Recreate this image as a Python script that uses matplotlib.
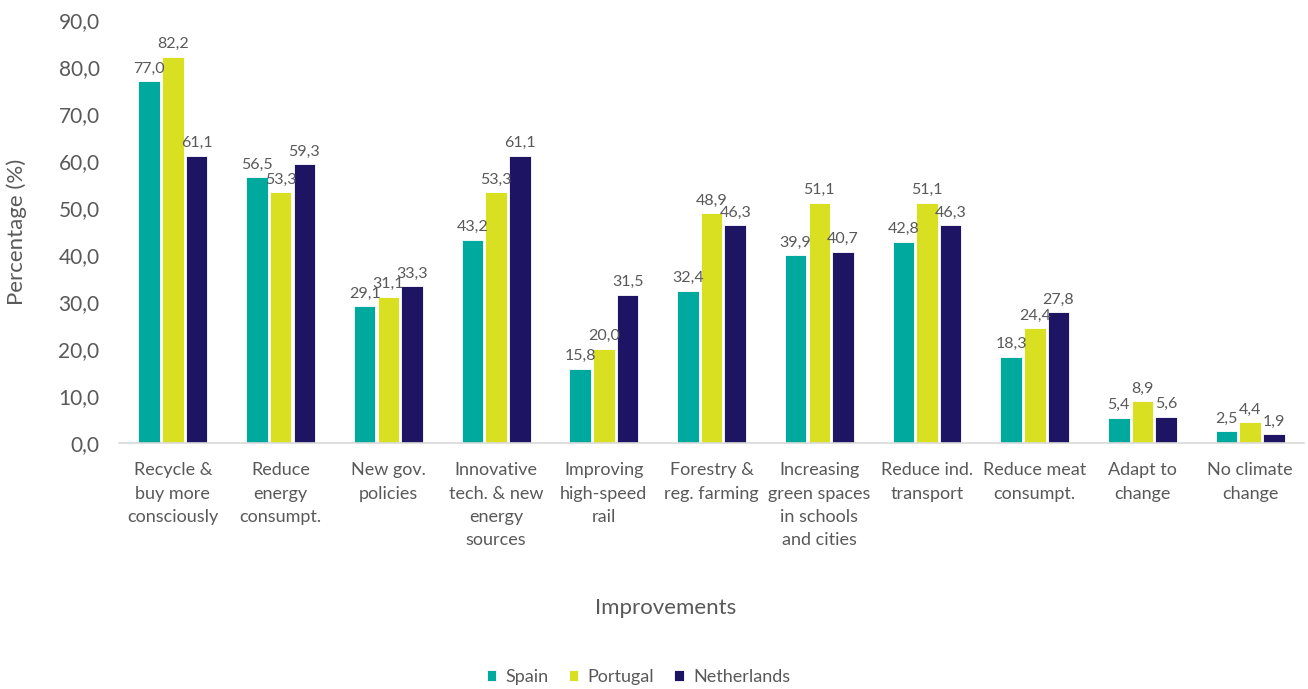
import numpy as np
import matplotlib
matplotlib.use("Agg")
import matplotlib.pyplot as plt
from matplotlib.ticker import FuncFormatter

categories = [
    "Recycle &\nbuy more\nconsciously",
    "Reduce\nenergy\nconsumpt.",
    "New gov.\npolicies",
    "Innovative\ntech. & new\nenergy\nsources",
    "Improving\nhigh-speed\nrail",
    "Forestry &\nreg. farming",
    "Increasing\ngreen spaces\nin schools\nand cities",
    "Reduce ind.\ntransport",
    "Reduce meat\nconsumpt.",
    "Adapt to\nchange",
    "No climate\nchange",
]
spain = [77.0, 56.5, 29.1, 43.2, 15.8, 32.4, 39.9, 42.8, 18.3, 5.4, 2.5]
portugal = [82.2, 53.3, 31.1, 53.3, 20.0, 48.9, 51.1, 51.1, 24.4, 8.9, 4.4]
netherlands = [61.1, 59.3, 33.3, 61.1, 31.5, 46.3, 40.7, 46.3, 27.8, 5.6, 1.9]
series_names = ["Spain", "Portugal", "Netherlands"]
colors = ["#00A99D", "#D9E021", "#1E1464"]

plt.rcParams["font.family"] = ["Lato", "DejaVu Sans"]
text_color = "#595959"

fig = plt.figure(figsize=(13.08, 6.89), dpi=100)
ax = fig.add_axes([0.091, 0.357, 0.906, 0.614])

x = np.arange(len(categories))
width = 0.2
step = 0.22
for i, (vals, name, col) in enumerate(zip([spain, portugal, netherlands], series_names, colors)):
    pos = x + (i - 1) * step
    bars = ax.bar(pos, vals, width, color=col, label=name, edgecolor="white", linewidth=0.6)
    for b, v in zip(bars, vals):
        ax.text(b.get_x() + b.get_width() / 2, v + 1.2, f"{v:.1f}".replace(".", ","),
                ha="center", va="bottom", fontsize=11.5, color=text_color)

ax.set_xlim(-0.5, len(categories) - 0.5)
ax.set_ylim(0, 90)
ax.set_yticks(np.arange(0, 91, 10))
ax.yaxis.set_major_formatter(FuncFormatter(lambda v, p: f"{v:.1f}".replace(".", ",")))
ax.set_xticks(x)
ax.set_xticklabels(categories, fontsize=13, color=text_color, linespacing=1.55, va="top")
ax.tick_params(axis="y", length=0, labelsize=15, labelcolor=text_color, pad=14)
ax.tick_params(axis="x", length=0, pad=14)

for s in ["top", "right", "left"]:
    ax.spines[s].set_visible(False)
ax.spines["bottom"].set_color("#D9D9D9")
ax.spines["bottom"].set_linewidth(1.2)

ax.set_ylabel("Percentage (%)", fontsize=16, color=text_color)
ax.yaxis.set_label_coords(-0.078, 0.5)
fig.text(0.509, 0.117, "Improvements", ha="center", va="center", fontsize=16, color=text_color)

leg = fig.legend(loc="center", bbox_to_anchor=(0.488, 0.018), ncol=3, frameon=False,
                 fontsize=13, handlelength=0.55, handleheight=0.55, handletextpad=0.5,
                 columnspacing=1.1)
for t in leg.get_texts():
    t.set_color(text_color)

fig.savefig("out.png", dpi=100)
